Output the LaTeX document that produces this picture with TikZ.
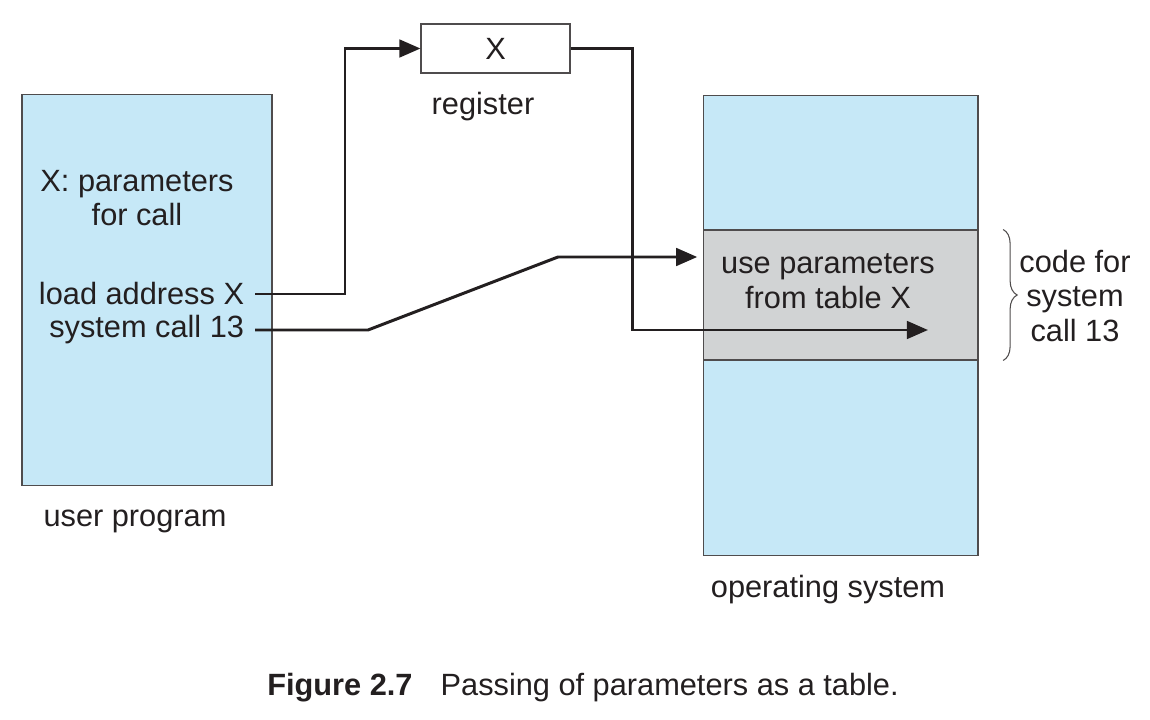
\documentclass[tikz,border=0pt]{standalone}
\usepackage{fontspec}
\setmainfont{Liberation Sans}
\usepackage{tikz}
\usetikzlibrary{arrows.meta, decorations.pathreplacing}

\definecolor{progblue}{HTML}{C6E8F7}
\definecolor{bandgray}{HTML}{D1D3D4}
\definecolor{inkdark}{HTML}{231F20}

\tikzset{
    lbl/.style={inner sep=0pt, text=inkdark, font=\fontsize{17.5pt}{19.8pt}\selectfont},
    memblock/.style={draw=inkdark!80, line width=.6pt, fill=progblue, inner sep=0pt},
    arr/.style={-{Triangle[length=12pt, width=10pt]}, line width=1.7pt, draw=inkdark}
}

\begin{document}
\begin{tikzpicture}[x=0.02cm, y=-0.02cm]
            \useasboundingbox (0,0) rectangle (1150,720);
            % User Program
            \node[memblock, minimum width=5cm, minimum height=7.84cm] (user) at (147,290) {};
            \node[lbl, align=center] (params) at (137,198) {X: parameters\\for call};
            \node[lbl, anchor=east, inner xsep=6pt] (load) at (255,294) {load address X};
            \node[lbl, anchor=east, inner xsep=6pt] (sys) at (255,330) {system call 13};
            \node[lbl] (userlbl) at (135,521) {user program};
            % Register
            \node[draw=inkdark!80, line width=.6pt, fill=white, minimum width=2.98cm, minimum height=0.98cm, lbl]
            (reg) at (495.5,48.5) {X};
            \node[lbl] (reglbl) at (483,107) {register};
            % Operating System
            \node[memblock, minimum width=5.5cm, minimum height=9.22cm] (os) at (840.5,325.5) {};
            \node[memblock, fill=bandgray, minimum width=5.5cm, minimum height=2.6cm] (band) at (840.5,295) {};
            \node[lbl, align=center] (use) at (828,281) {use parameters\\from table X};
            \node[lbl] (oslbl) at (828,590) {operating system};
            % Brace
            \draw[inkdark!80, line width=.6pt, decorate, decoration={brace, amplitude=8pt}]
            ([xshift=14]band.north east) -- ([xshift=14]band.south east);
            \node[lbl, align=center] (codefor) at (1075,296) {code for\\system\\call 13};
            % Arrows
            \coordinate (bend1) at (368,330);
            \coordinate (bend2) at (558,257);
            \coordinate (tip) at (928,330);
            \draw[arr] (load.east) -- ++(90,0) |- (reg.west);
            \draw[arr] (sys.east) -- (bend1) -- (bend2) -- ([xshift=-3]band.west |- bend2);
            \draw[arr] (reg.east) -- ++(62,0) |- (tip);
            % Caption
            \node[lbl] (caption) at (583,688) {\textbf{Figure 2.7}\hspace{16pt}Passing of parameters as a table.};
\end{tikzpicture}
\end{document}
